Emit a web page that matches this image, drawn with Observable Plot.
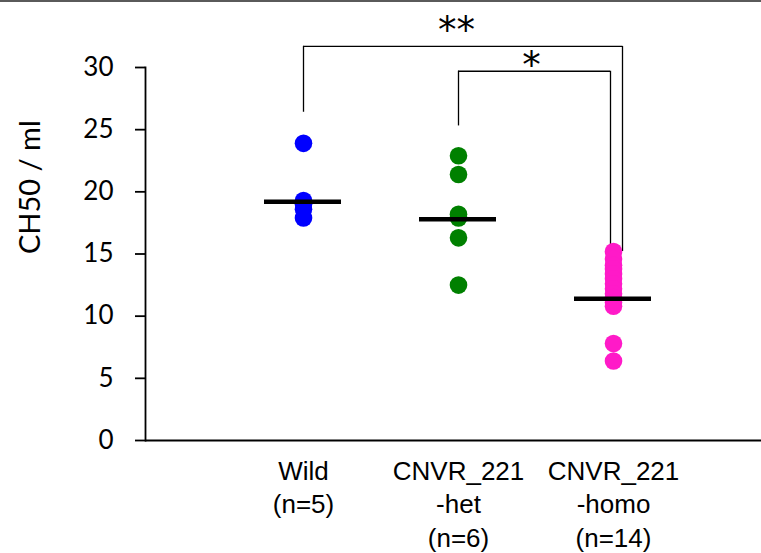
<!DOCTYPE html>
<html><head><meta charset="utf-8">
<script src="https://cdn.jsdelivr.net/npm/d3@7"></script>
<script src="https://cdn.jsdelivr.net/npm/@observablehq/plot@0.6"></script>
<style>
body{margin:0;background:#fff;}
#wrap{position:relative;width:761px;height:553px;overflow:hidden;}
#topline{position:absolute;left:0;top:0;width:761px;height:2px;background:#5a5a5a;}
g[aria-label="sig-double"] text{letter-spacing:3px;}
</style></head><body><div id="wrap"><div id="topline"></div></div>
<script>
const groups = ["Wild", "CNVR_221-het", "CNVR_221-homo"];
const groupLabels = ["Wild\n(n=5)", "CNVR_221\n-het\n(n=6)", "CNVR_221\n-homo\n(n=14)"];
const groupColors = ["#0000ff", "#008000", "#ff1ac8"];
const wildValues = [23.9, 19.3, 19.0, 18.6, 17.9];
const hetValues = [22.9, 21.4, 18.2, 17.9, 16.3, 12.5];
const homoValues = [15.2, 14.6, 14.1, 13.8, 13.4, 13.0, 12.6, 12.2, 11.8, 11.5, 11.1, 10.8, 7.8, 6.4];
const groupMeans = [19.2, 17.8, 11.4];
const yTicks = [0, 5, 10, 15, 20, 25, 30];
const yTitle = "CH50 / ml";
const compFrom = ["Wild", "CNVR_221-het"];
const compTo = ["CNVR_221-homo", "CNVR_221-homo"];
const compLabels = ["**", "*"];
const compTop = [31.7, 29.7];
const compFromEnd = [26.4, 25.3];
const compToEnd = [15.2, 15.2];

const points = [
  ...wildValues.map(v => ({group: groups[0], value: v})),
  ...hetValues.map(v => ({group: groups[1], value: v})),
  ...homoValues.map(v => ({group: groups[2], value: v}))
];
const means = groups.map((g, i) => ({group: g, value: groupMeans[i]}));
const comps = compLabels.map((l, i) => ({from: compFrom[i], to: compTo[i], label: l, top: compTop[i], fromEnd: compFromEnd[i], toEnd: compToEnd[i]}));
const c0 = [comps[0]], c1 = [comps[1]];
const labelOf = new Map(groups.map((g, i) => [g, groupLabels[i]]));
const starFont = "'DejaVu Sans', sans-serif";

const chart = Plot.plot({
  width: 761,
  height: 553,
  marginLeft: 145,
  marginRight: 0,
  marginTop: 67,
  marginBottom: 113,
  x: {type: "point", domain: groups, padding: 0.98, align: 0.515},
  y: {domain: [0, 30]},
  color: {domain: groups, range: groupColors},
  marks: [
    Plot.axisY({ticks: yTicks, tickSize: 10, tickPadding: 22, fontSize: 26, fontFamily: "Lato, 'Open Sans', sans-serif",
      label: null, stroke: "#000", strokeWidth: 1.8, color: "#000"}),
    Plot.text([yTitle], {frameAnchor: "left", text: d => d, rotate: -90, dx: -115, fontSize: 29,
      fontFamily: "Lato, 'Open Sans', sans-serif", fill: "#000", lineAnchor: "middle"}),
    Plot.axisX({tickSize: 0, tickPadding: 16, fontSize: 26, fontFamily: "'Liberation Sans', Arial, sans-serif", lineHeight: 1.28,
      tickFormat: g => labelOf.get(g), label: null, color: "#000"}),
    Plot.frame({anchor: "left", stroke: "#000", strokeWidth: 1.8}),
    Plot.ruleY([0], {stroke: "#000", strokeWidth: 1.8}),
    // brackets (drawn under the dots)
    Plot.ruleX(c0, {x: "from", y1: "fromEnd", y2: "top", stroke: "#000", strokeWidth: 1.3}),
    Plot.ruleX(c0, {x: "to", y1: "toEnd", y2: "top", dx: 9, stroke: "#000", strokeWidth: 1.3}),
    Plot.ruleY(c0, {x1: "from", x2: "to", y: "top", insetRight: -9, stroke: "#000", strokeWidth: 1.3}),
    Plot.text(c0, {x: "from", y: "top", text: "label", dx: 153, dy: -3, lineAnchor: "bottom", fontSize: 37, fontFamily: starFont, fill: "#000", ariaLabel: "sig-double"}),
    Plot.ruleX(c1, {x: "from", y1: "fromEnd", y2: "top", stroke: "#000", strokeWidth: 1.3}),
    Plot.ruleX(c1, {x: "to", y1: "toEnd", y2: "top", dx: -3, stroke: "#000", strokeWidth: 1.3}),
    Plot.ruleY(c1, {x1: "from", x2: "to", y: "top", insetRight: 3, stroke: "#000", strokeWidth: 1.3}),
    Plot.text(c1, {x: "from", y: "top", text: "label", dx: 73, dy: 7, lineAnchor: "bottom", fontSize: 37, fontFamily: starFont, fill: "#000"}),
    Plot.dot(points, {x: "group", y: "value", r: 8.8, fill: "group", stroke: null}),
    Plot.ruleY(means, {x1: "group", x2: "group", y: "value", stroke: "#000", strokeWidth: 4.5, insetLeft: -39, insetRight: -38})
  ]
});
document.getElementById("wrap").appendChild(chart);
</script></body></html>
